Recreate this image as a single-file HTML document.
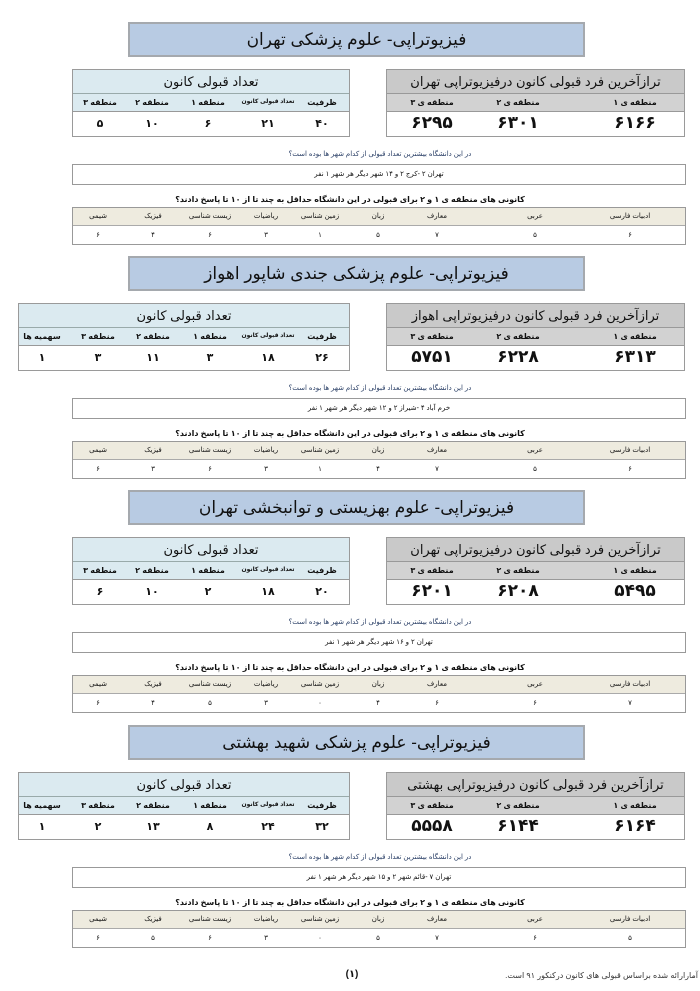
<!DOCTYPE html>
<html lang="fa" dir="rtl"><head><meta charset="utf-8">
<style>
*{margin:0;padding:0;box-sizing:border-box}
body{width:700px;height:991px;background:#fff;position:relative;overflow:hidden;font-family:"Liberation Sans","Noto Sans CJK SC","DejaVu Sans",sans-serif;color:#111}
.sec{position:absolute;left:0;top:0;width:700px;height:230px}
.a{position:absolute}
.c{position:absolute;transform:translateX(-50%);white-space:nowrap;text-align:center}
.title{left:128px;width:457px;top:0;height:35px;background:#b8cbe3;border:2px solid #a5a9ae;font-size:17px;line-height:31px;text-align:center}
.rt{left:386px;width:299px;top:47px;height:68px;border:1px solid #9a9a9a;background:#fff}
.rth{position:absolute;left:0;right:0;top:0;height:24px;background:#c9c9c9;border-bottom:1px solid #999;font-size:13px;line-height:23px;text-align:center}
.rts{position:absolute;left:0;right:0;top:24px;height:18px;background:#d2d2d2;border-bottom:1px solid #999}
.lt{top:47px;height:68px;border:1px solid #9a9a9a;background:#fff}
.lth{position:absolute;left:0;right:0;top:0;height:24px;background:#dbeaf0;border-bottom:1px solid #9aa;font-size:13px;line-height:23px;text-align:center}
.lts{position:absolute;left:0;right:0;top:24px;height:18px;background:#dbeaf0;border-bottom:1px solid #999}
.sh{font-size:8px;font-weight:bold;top:76px}
.bv{font-size:17px;font-weight:bold;top:91px}
.lv{font-size:11px;font-weight:bold;top:95px}
.q{font-size:7px;color:#2a3f66;top:128px}
.box{left:72px;width:614px;top:142px;height:21px;border:1px solid #999;font-size:7px;line-height:19px;text-align:center}
.q2{font-size:8px;font-weight:bold;top:173px}
.st{left:72px;width:614px;top:185px;height:38px;border:1px solid #999}
.sth{position:absolute;left:0;right:0;top:0;height:18px;background:#eeebdf;border-bottom:1px solid #aaa}
.sn{font-size:7px;top:190px}
.sv{font-size:7px;top:209px}
</style></head><body>

<!-- SECTION 1 -->
<div class="sec" style="top:22px">
<div class="a title">فیزیوتراپی- علوم پزشکی تهران</div>
<div class="a rt"><div class="rth">ترازآخرین فرد قبولی کانون درفیزیوتراپی تهران</div><div class="rts"></div></div>
<div class="c sh" style="left:635px">منطقه ی ۱</div><div class="c sh" style="left:518px">منطقه ی ۲</div><div class="c sh" style="left:432px">منطقه ی ۳</div>
<div class="c bv" style="left:635px">۶۱۶۶</div><div class="c bv" style="left:518px">۶۳۰۱</div><div class="c bv" style="left:432px">۶۲۹۵</div>
<div class="a lt" style="left:72px;width:278px"><div class="lth">تعداد قبولی کانون</div><div class="lts"></div></div>
<div class="c sh" style="left:322px">ظرفیت</div><div class="c sh" style="left:268px;font-size:6px">تعداد قبولی کانون</div><div class="c sh" style="left:208px">منطقه ۱</div><div class="c sh" style="left:152px">منطقه ۲</div><div class="c sh" style="left:100px">منطقه ۳</div>
<div class="c lv" style="left:322px">۴۰</div><div class="c lv" style="left:268px">۲۱</div><div class="c lv" style="left:208px">۶</div><div class="c lv" style="left:152px">۱۰</div><div class="c lv" style="left:100px">۵</div>
<div class="c q" style="left:380px">در این دانشگاه بیشترین تعداد قبولی از کدام شهر ها بوده است؟</div>
<div class="a box">تهران ۲ -کرج ۲ و ۱۴ شهر دیگر هر شهر ۱ نفر</div>
<div class="c q2" style="left:350px">کانونی های منطقه ی ۱ و ۲ برای قبولی در این دانشگاه حداقل به چند تا از ۱۰ تا پاسخ دادند؟</div>
<div class="a st"><div class="sth"></div></div>
<div class="c sn" style="left:630px">ادبیات فارسی</div><div class="c sn" style="left:535px">عربی</div><div class="c sn" style="left:437px">معارف</div><div class="c sn" style="left:378px">زبان</div><div class="c sn" style="left:320px">زمین شناسی</div><div class="c sn" style="left:266px">ریاضیات</div><div class="c sn" style="left:210px">زیست شناسی</div><div class="c sn" style="left:153px">فیزیک</div><div class="c sn" style="left:98px">شیمی</div>
<div class="c sv" style="left:630px">۶</div><div class="c sv" style="left:535px">۵</div><div class="c sv" style="left:437px">۷</div><div class="c sv" style="left:378px">۵</div><div class="c sv" style="left:320px">۱</div><div class="c sv" style="left:266px">۳</div><div class="c sv" style="left:210px">۶</div><div class="c sv" style="left:153px">۴</div><div class="c sv" style="left:98px">۶</div>
</div>

<!-- SECTION 2 -->
<div class="sec" style="top:256px">
<div class="a title">فیزیوتراپی- علوم پزشکی جندی شاپور  اهواز</div>
<div class="a rt"><div class="rth">ترازآخرین فرد قبولی کانون درفیزیوتراپی اهواز</div><div class="rts"></div></div>
<div class="c sh" style="left:635px">منطقه ی ۱</div><div class="c sh" style="left:518px">منطقه ی ۲</div><div class="c sh" style="left:432px">منطقه ی ۳</div>
<div class="c bv" style="left:635px">۶۳۱۳</div><div class="c bv" style="left:518px">۶۲۲۸</div><div class="c bv" style="left:432px">۵۷۵۱</div>
<div class="a lt" style="left:18px;width:332px"><div class="lth">تعداد قبولی کانون</div><div class="lts"></div></div>
<div class="c sh" style="left:322px">ظرفیت</div><div class="c sh" style="left:268px;font-size:6px">تعداد قبولی کانون</div><div class="c sh" style="left:210px">منطقه ۱</div><div class="c sh" style="left:153px">منطقه ۲</div><div class="c sh" style="left:98px">منطقه ۳</div><div class="c sh" style="left:42px">سهمیه ها</div>
<div class="c lv" style="left:322px">۲۶</div><div class="c lv" style="left:268px">۱۸</div><div class="c lv" style="left:210px">۳</div><div class="c lv" style="left:153px">۱۱</div><div class="c lv" style="left:98px">۳</div><div class="c lv" style="left:42px">۱</div>
<div class="c q" style="left:380px">در این دانشگاه بیشترین تعداد قبولی از کدام شهر ها بوده است؟</div>
<div class="a box">خرم آباد ۴ -شیراز ۲ و ۱۲ شهر دیگر هر شهر ۱ نفر</div>
<div class="c q2" style="left:350px">کانونی های منطقه ی ۱ و ۲ برای قبولی در این دانشگاه حداقل به چند تا از ۱۰ تا پاسخ دادند؟</div>
<div class="a st"><div class="sth"></div></div>
<div class="c sn" style="left:630px">ادبیات فارسی</div><div class="c sn" style="left:535px">عربی</div><div class="c sn" style="left:437px">معارف</div><div class="c sn" style="left:378px">زبان</div><div class="c sn" style="left:320px">زمین شناسی</div><div class="c sn" style="left:266px">ریاضیات</div><div class="c sn" style="left:210px">زیست شناسی</div><div class="c sn" style="left:153px">فیزیک</div><div class="c sn" style="left:98px">شیمی</div>
<div class="c sv" style="left:630px">۶</div><div class="c sv" style="left:535px">۵</div><div class="c sv" style="left:437px">۷</div><div class="c sv" style="left:378px">۴</div><div class="c sv" style="left:320px">۱</div><div class="c sv" style="left:266px">۳</div><div class="c sv" style="left:210px">۶</div><div class="c sv" style="left:153px">۳</div><div class="c sv" style="left:98px">۶</div>
</div>

<!-- SECTION 3 -->
<div class="sec" style="top:490px">
<div class="a title">فیزیوتراپی- علوم بهزیستی و توانبخشی تهران</div>
<div class="a rt"><div class="rth">ترازآخرین فرد قبولی کانون درفیزیوتراپی تهران</div><div class="rts"></div></div>
<div class="c sh" style="left:635px">منطقه ی ۱</div><div class="c sh" style="left:518px">منطقه ی ۲</div><div class="c sh" style="left:432px">منطقه ی ۳</div>
<div class="c bv" style="left:635px">۵۴۹۵</div><div class="c bv" style="left:518px">۶۲۰۸</div><div class="c bv" style="left:432px">۶۲۰۱</div>
<div class="a lt" style="left:72px;width:278px"><div class="lth">تعداد قبولی کانون</div><div class="lts"></div></div>
<div class="c sh" style="left:322px">ظرفیت</div><div class="c sh" style="left:268px;font-size:6px">تعداد قبولی کانون</div><div class="c sh" style="left:208px">منطقه ۱</div><div class="c sh" style="left:152px">منطقه ۲</div><div class="c sh" style="left:100px">منطقه ۳</div>
<div class="c lv" style="left:322px">۲۰</div><div class="c lv" style="left:268px">۱۸</div><div class="c lv" style="left:208px">۲</div><div class="c lv" style="left:152px">۱۰</div><div class="c lv" style="left:100px">۶</div>
<div class="c q" style="left:380px">در این دانشگاه بیشترین تعداد قبولی از کدام شهر ها بوده است؟</div>
<div class="a box">تهران ۲ و ۱۶ شهر دیگر هر شهر ۱ نفر</div>
<div class="c q2" style="left:350px">کانونی های منطقه ی ۱ و ۲ برای قبولی در این دانشگاه حداقل به چند تا از ۱۰ تا پاسخ دادند؟</div>
<div class="a st"><div class="sth"></div></div>
<div class="c sn" style="left:630px">ادبیات فارسی</div><div class="c sn" style="left:535px">عربی</div><div class="c sn" style="left:437px">معارف</div><div class="c sn" style="left:378px">زبان</div><div class="c sn" style="left:320px">زمین شناسی</div><div class="c sn" style="left:266px">ریاضیات</div><div class="c sn" style="left:210px">زیست شناسی</div><div class="c sn" style="left:153px">فیزیک</div><div class="c sn" style="left:98px">شیمی</div>
<div class="c sv" style="left:630px">۷</div><div class="c sv" style="left:535px">۶</div><div class="c sv" style="left:437px">۶</div><div class="c sv" style="left:378px">۴</div><div class="c sv" style="left:320px">۰</div><div class="c sv" style="left:266px">۳</div><div class="c sv" style="left:210px">۵</div><div class="c sv" style="left:153px">۴</div><div class="c sv" style="left:98px">۶</div>
</div>

<!-- SECTION 4 -->
<div class="sec" style="top:725px">
<div class="a title">فیزیوتراپی- علوم پزشکی شهید بهشتی</div>
<div class="a rt"><div class="rth">ترازآخرین فرد قبولی کانون درفیزیوتراپی بهشتی</div><div class="rts"></div></div>
<div class="c sh" style="left:635px">منطقه ی ۱</div><div class="c sh" style="left:518px">منطقه ی ۲</div><div class="c sh" style="left:432px">منطقه ی ۳</div>
<div class="c bv" style="left:635px">۶۱۶۴</div><div class="c bv" style="left:518px">۶۱۴۴</div><div class="c bv" style="left:432px">۵۵۵۸</div>
<div class="a lt" style="left:18px;width:332px"><div class="lth">تعداد قبولی کانون</div><div class="lts"></div></div>
<div class="c sh" style="left:322px">ظرفیت</div><div class="c sh" style="left:268px;font-size:6px">تعداد قبولی کانون</div><div class="c sh" style="left:210px">منطقه ۱</div><div class="c sh" style="left:153px">منطقه ۲</div><div class="c sh" style="left:98px">منطقه ۳</div><div class="c sh" style="left:42px">سهمیه ها</div>
<div class="c lv" style="left:322px">۳۲</div><div class="c lv" style="left:268px">۲۴</div><div class="c lv" style="left:210px">۸</div><div class="c lv" style="left:153px">۱۳</div><div class="c lv" style="left:98px">۲</div><div class="c lv" style="left:42px">۱</div>
<div class="c q" style="left:380px">در این دانشگاه بیشترین تعداد قبولی از کدام شهر ها بوده است؟</div>
<div class="a box">تهران ۷ -قائم شهر ۲ و ۱۵ شهر دیگر هر شهر ۱ نفر</div>
<div class="c q2" style="left:350px">کانونی های منطقه ی ۱ و ۲ برای قبولی در این دانشگاه حداقل به چند تا از ۱۰ تا پاسخ دادند؟</div>
<div class="a st"><div class="sth"></div></div>
<div class="c sn" style="left:630px">ادبیات فارسی</div><div class="c sn" style="left:535px">عربی</div><div class="c sn" style="left:437px">معارف</div><div class="c sn" style="left:378px">زبان</div><div class="c sn" style="left:320px">زمین شناسی</div><div class="c sn" style="left:266px">ریاضیات</div><div class="c sn" style="left:210px">زیست شناسی</div><div class="c sn" style="left:153px">فیزیک</div><div class="c sn" style="left:98px">شیمی</div>
<div class="c sv" style="left:630px">۵</div><div class="c sv" style="left:535px">۶</div><div class="c sv" style="left:437px">۷</div><div class="c sv" style="left:378px">۵</div><div class="c sv" style="left:320px">۰</div><div class="c sv" style="left:266px">۳</div><div class="c sv" style="left:210px">۶</div><div class="c sv" style="left:153px">۵</div><div class="c sv" style="left:98px">۶</div>
</div>

<div class="c" style="left:352px;top:969px;font-size:10px;font-weight:bold">(۱)</div>
<div class="a" style="right:2px;top:971px;font-size:8px;color:#333;white-space:nowrap">آمارارائه شده براساس قبولی های کانون درکنکور ۹۱ است.</div>
</body></html>
